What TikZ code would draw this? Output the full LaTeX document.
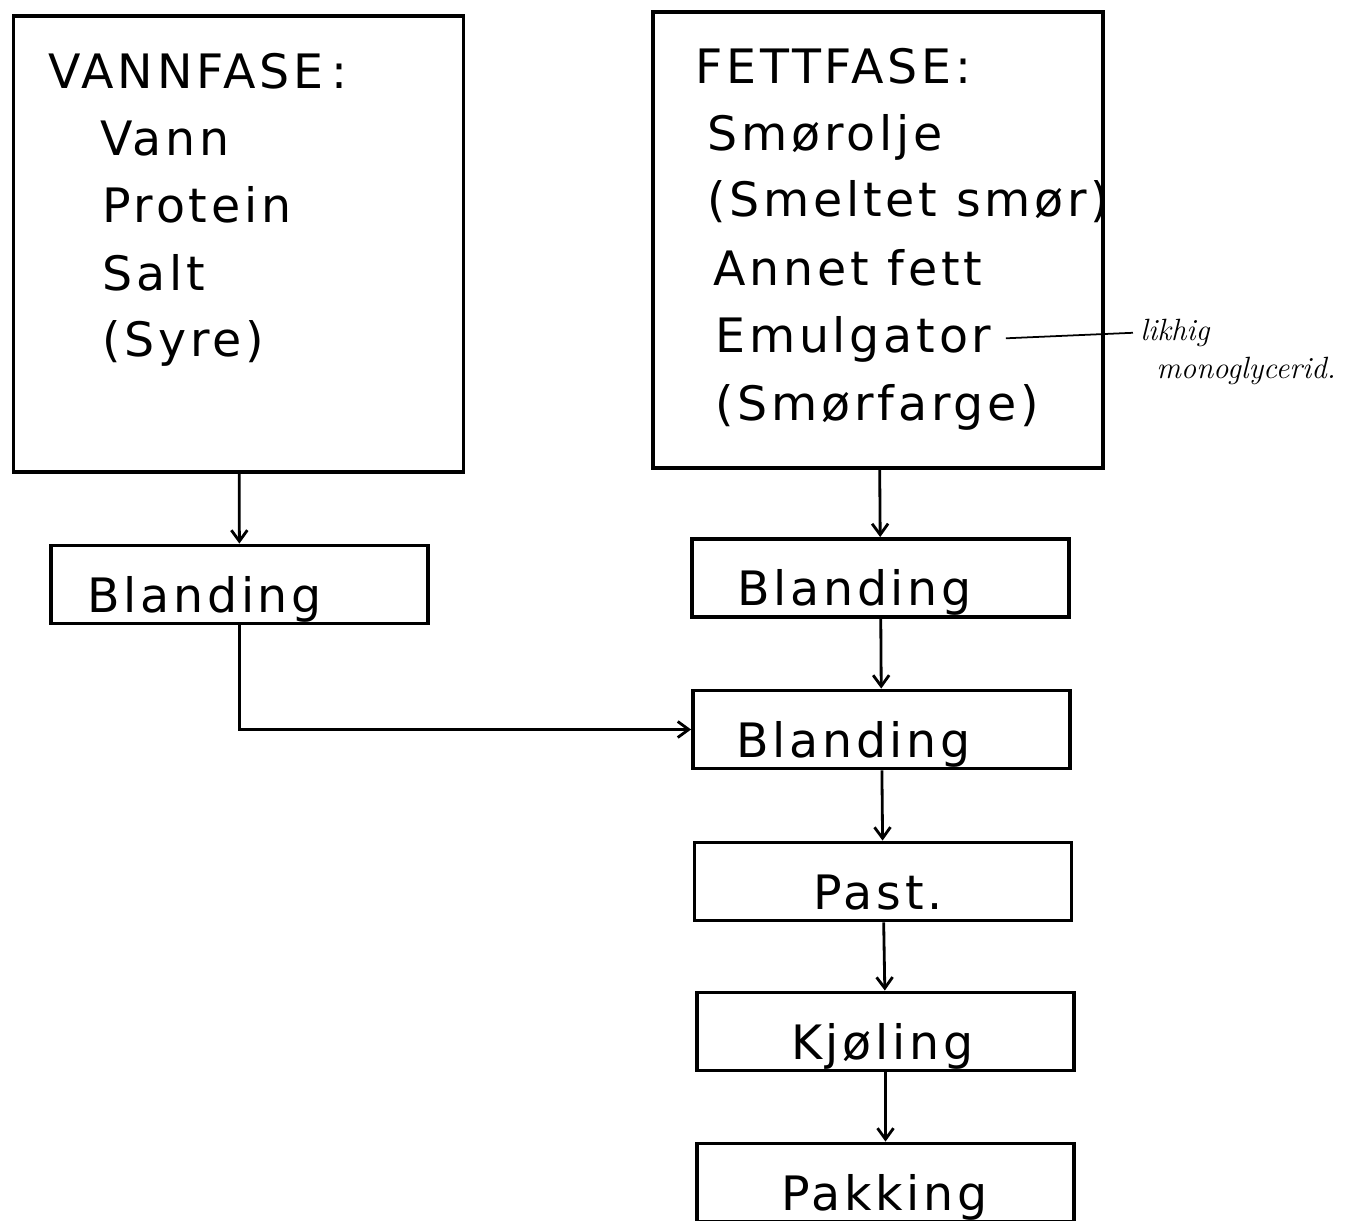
\documentclass[tikz,border=0pt]{standalone}
\usepackage{fontspec}
\usepackage{tikz}
\usetikzlibrary{positioning,arrows.meta}
\newfontfamily\lett[LetterSpace=8]{DejaVu Sans}
\newcommand{\lfont}{\lett\fontsize{27}{34}\selectfont}

\begin{document}
\begin{tikzpicture}[x=0.02cm, y=-0.02cm,
  phase/.style={draw, line width=2.2pt, minimum width=9cm, minimum height=9.12cm},
  stepbox/.style={draw, line width=2.2pt, minimum height=1.56cm, text width=7.54cm,
                  align=left, font=\lfont, text height=1.2cm, text depth=0.1cm, inner sep=0pt},
  txt/.style={anchor=base west, inner sep=0pt, font=\lfont},
  note/.style={anchor=base west, inner sep=0pt, font=\itshape\fontsize{17.5}{21}\selectfont},
  arr/.style={-{Straight Barb[length=2.2mm, width=3.2mm]}, line width=1.6pt},
]
\useasboundingbox (0,0) rectangle (1350,1221);
\clip (0,0) rectangle (1350,1221);

% water phase
\node[phase] (vann) at (238.5,244) {};
\node[txt] (vhead) at (48,88) {VANNFASE\,:};
\node[txt] (vi1) at (100,155) {Vann};
\node[txt] (vi2) at (102,222) {Protein};
\node[txt] (vi3) at (102,290) {Salt};
\node[txt] (vi4) at (102,356) {(Syre)};

% fat phase
\node[phase] (fett) at (878,240) {};
\node[txt] (fhead) at (695,83) {FETTFASE:};
\node[txt] (fi1) at (707,150) {Smørolje};
\node[txt] (fi2) at (707,216) {(Smeltet smør)};
\node[txt] (fi3) at (713,285) {Annet fett};
\node[txt] (emul) at (715,352) {Emulgator};
\node[txt] (fi5) at (715,420) {(Smørfarge)};

% handwritten note
\node[note] (note1) at (1140,340) {likhig};
\node[note] (note2) at (1156,378) {monoglycerid.};
\draw[line width=1pt, shorten <=8pt, shorten >=4pt] (emul.east) -- (note1.west);

% process steps
\node[stepbox] (blandv) at (239.5,584.5) {\hspace*{0.72cm}Blanding};
\node[stepbox] (blandf) at (880.5,578) {\hspace*{0.9cm}Blanding};
\node[stepbox] (bland) at (881.5,729.5) {\hspace*{0.86cm}Blanding};
\node[stepbox] (past) at (883,881.5) {\hspace*{2.38cm}Past.};
\node[stepbox] (kjol) at (885.5,1031.5) {\hspace*{1.88cm}Kjøling};
\node[stepbox] (pakk) at (885.5,1182.5) {\hspace*{1.68cm}Pakking};

\draw[arr] (vann) -- (blandv);
\draw[arr] (fett) -- (blandf);
\draw[arr] (blandf) -- (bland);
\draw[arr] (blandv.south) |- (bland.west);
\draw[arr] (bland) -- (past);
\draw[arr] (past) -- (kjol);
\draw[arr] (kjol) -- (pakk);
\end{tikzpicture}
\end{document}
